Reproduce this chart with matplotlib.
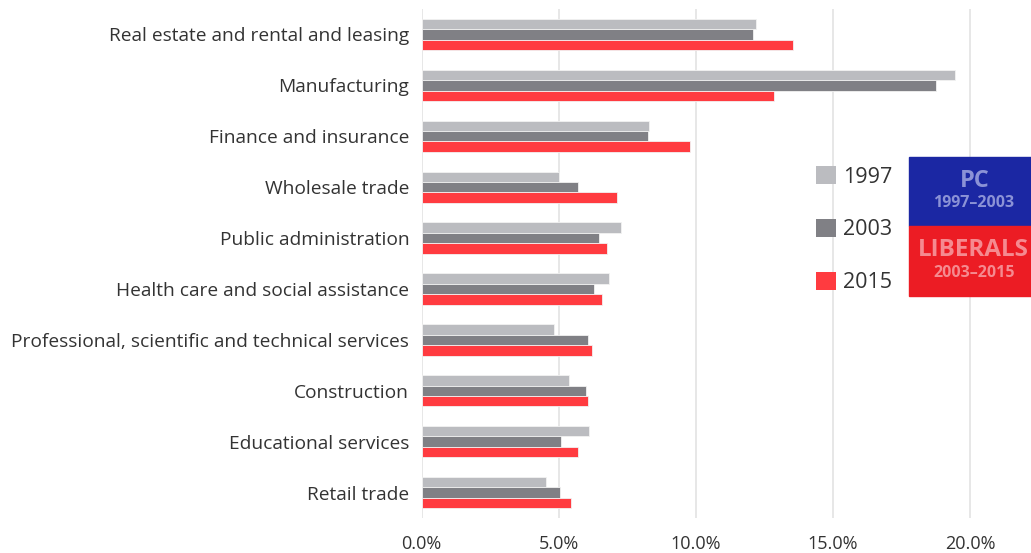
import numpy as np
import matplotlib.pyplot as plt
from matplotlib.patches import Patch, Rectangle

plt.rcParams['font.family'] = ['Open Sans', 'DejaVu Sans']

industries = ['Real estate and rental and leasing', 'Manufacturing', 'Finance and insurance',
              'Wholesale trade', 'Public administration', 'Health care and social assistance',
              'Professional, scientific and technical services', 'Construction',
              'Educational services', 'Retail trade']
share_1997 = [12.2, 19.47, 8.28, 5.0, 7.27, 6.85, 4.82, 5.39, 6.10, 4.53]
share_2003 = [12.1, 18.77, 8.26, 5.71, 6.48, 6.28, 6.08, 5.99, 5.10, 5.06]
share_2015 = [13.55, 12.84, 9.78, 7.11, 6.77, 6.56, 6.22, 6.08, 5.69, 5.44]
years = ['1997', '2003', '2015']
colors = ['#bbbcc0', '#808085', '#ff3b40']

fig = plt.figure(figsize=(10.31, 5.53), dpi=100)
ax = fig.add_axes([0.409, 0.0633, 0.585, 0.9204])

y = np.arange(len(industries))
h = 0.205
for i, (vals, c) in enumerate(zip([share_1997, share_2003, share_2015], colors)):
    ax.barh(y + (i - 1) * h, vals, height=h, color=c, edgecolor='#f2f2f2',
            linewidth=0.6, zorder=3, label=years[i])

ax.set_ylim(9.5, -0.5)
ax.set_xlim(0, 22)
ax.set_xticks([0, 5, 10, 15, 20])
ax.set_xticklabels(['0.0%', '5.0%', '10.0%', '15.0%', '20.0%'])
ax.set_yticks(y)
ax.set_yticklabels(industries, fontsize=13.8)
ax.grid(axis='x', color='#e3e3e3', linewidth=1.2, zorder=0)
for s in ax.spines.values():
    s.set_visible(False)
ax.tick_params(axis='both', length=0, labelcolor='#333333')
ax.tick_params(axis='x', pad=12, labelsize=13)
ax.tick_params(axis='y', pad=9)

handles = [Patch(facecolor=c, edgecolor='none') for c in colors]
fig.legend(handles, years, loc='upper left', bbox_to_anchor=(0.773, 0.7346),
           frameon=False, fontsize=15.5, handlelength=0.9, handleheight=0.9,
           handletextpad=0.35, labelspacing=1.46, labelcolor='#333333')

# party-in-power boxes
fig.patches.append(Rectangle((909 / 1031, 1 - 226 / 553), 122 / 1031, 69 / 553,
                             transform=fig.transFigure, color='#1b27a3', zorder=5))
fig.patches.append(Rectangle((909 / 1031, 1 - 296 / 553), 122 / 1031, 70 / 553,
                             transform=fig.transFigure, color='#ec1c24', zorder=5))
fig.text(975 / 1031, 1 - 181 / 553, 'PC', color='#8b92d6', fontsize=17,
         fontweight='bold', ha='center', va='center', zorder=6)
fig.text(974 / 1031, 1 - 203 / 553, '1997–2003', color='#8b92d6', fontsize=11.5,
         fontweight='bold', ha='center', va='center', zorder=6)
fig.text(1029 / 1031, 1 - 250 / 553, 'LIBERALS', color='#f58a90', fontsize=17.5,
         fontweight='bold', ha='right', va='center', zorder=6)
fig.text(974 / 1031, 1 - 273 / 553, '2003–2015', color='#f58a90', fontsize=11.5,
         fontweight='bold', ha='center', va='center', zorder=6)

fig.savefig('out.png', dpi=100)
